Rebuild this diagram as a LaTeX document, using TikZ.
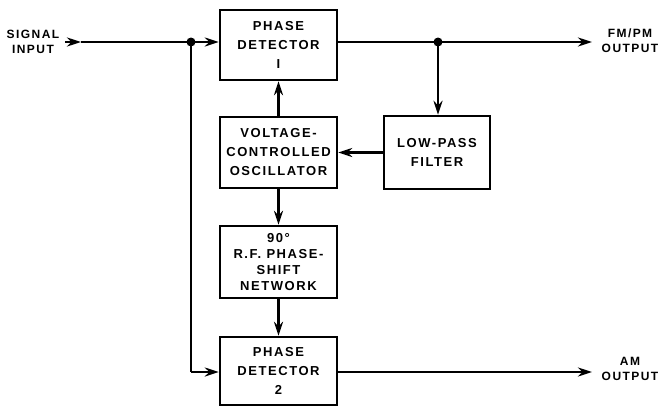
\documentclass[tikz,border=0pt]{standalone}
\usepackage{fontspec}
\setmainfont{Liberation Sans}[LetterSpace=12]
\usetikzlibrary{arrows.meta}
\begin{document}
\begin{tikzpicture}[x=1pt,y=-1pt, line width=2.4pt,
  >={Stealth[length=14pt,width=9pt]},
  blk/.style={draw, line width=2.4pt, minimum width=117pt, align=center, inner sep=0pt,
    font=\bfseries\fontsize{13}{19}\selectfont},
  lbl/.style={align=center, inner sep=0pt, font=\bfseries\fontsize{12}{15}\selectfont},
  jdot/.style={circle, fill, inner sep=0pt, minimum size=9pt}]
\useasboundingbox (0,0) rectangle (663,407);
\node[blk, minimum height=70pt] (pd1) at (278.5,45) {PHASE\\DETECTOR\\I};
\node[blk, minimum height=71pt] (vco) at (278.5,152.5) {VOLTAGE-\\CONTROLLED\\OSCILLATOR};
\node[blk, minimum height=73pt, minimum width=106pt] (lpf) at (437,152.5) {LOW-PASS\\FILTER};
\node[blk, minimum height=72pt, font=\bfseries\fontsize{13}{16}\selectfont] (ps) at (278.5,262) {90°\\R.F. PHASE-\\SHIFT\\NETWORK};
\node[blk, minimum height=68pt] (pd2) at (278.5,371) {PHASE\\DETECTOR\\2};
\node[lbl] (sig) at (33,42) {SIGNAL\\INPUT};
\node[lbl] (fmo) at (630,41) {FM/PM\\OUTPUT};
\node[lbl] (amo) at (630,369) {AM\\OUTPUT};
\coordinate (sin) at (65,42);
\coordinate (sinA) at (81,42);
\coordinate (dot) at (191,42);
\coordinate (fmdot) at (438,42);
\coordinate (fmend) at (592,42);
\coordinate (bend) at (191,372);
\coordinate (amend) at (592,372);
\draw[->] (sin) -- (sinA);
\draw (sinA) -- (dot);
\draw[->] (dot) -- (dot -| pd1.west);
\draw (pd1.east |- fmdot) -- (fmdot);
\draw[->] (fmdot) -- (fmend);
\draw[->] (fmdot) -- (fmdot |- lpf.north);
\draw[->] (lpf.west) -- (vco.east);
\draw[->] (vco.north) -- (pd1.south);
\draw[->] (vco.south) -- (ps.north);
\draw[->] (ps.south) -- (pd2.north);
\draw (dot) -- (bend);
\draw[->] (bend) -- (bend -| pd2.west);
\draw[->] (pd2.east |- bend) -- (amend);
\node[jdot] at (dot) {};
\node[jdot] at (fmdot) {};
\end{tikzpicture}
\end{document}
